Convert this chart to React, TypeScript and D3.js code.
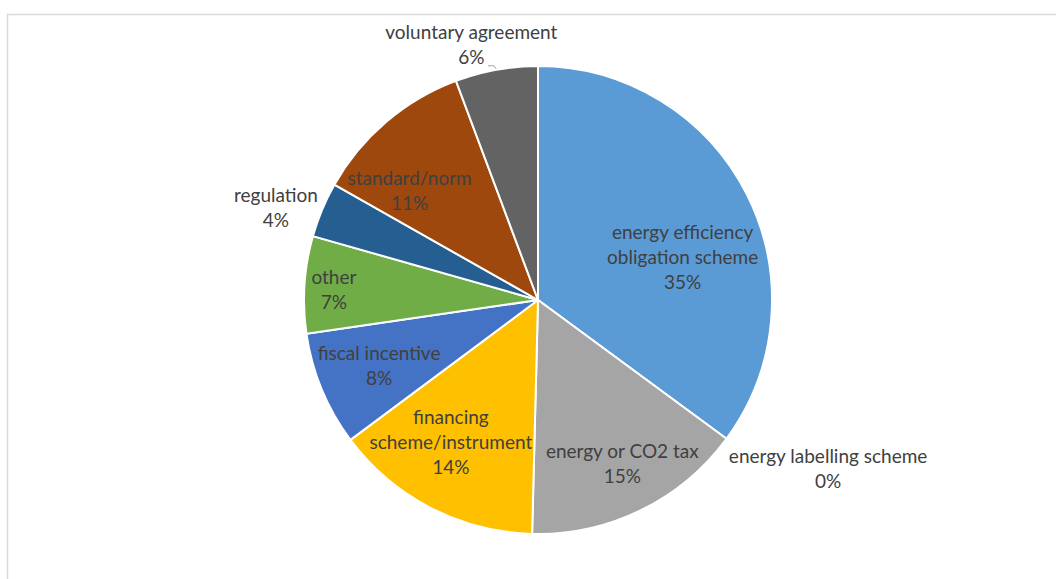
import React from "react";
import * as d3 from "d3";

const categories = [
  "energy efficiency obligation scheme",
  "energy labelling scheme",
  "energy or CO2 tax",
  "financing scheme/instrument",
  "fiscal incentive",
  "other",
  "regulation",
  "standard/norm",
  "voluntary agreement",
];
const values = [35.1, 0, 15.3, 14.4, 7.9, 6.7, 3.8, 11.1, 5.7];
const percentLabels = ["35%", "0%", "15%", "14%", "8%", "7%", "4%", "11%", "6%"];
const labelLines = [
  ["energy efficiency", "obligation scheme"],
  ["energy labelling scheme"],
  ["energy or CO2 tax"],
  ["financing", "scheme/instrument"],
  ["fiscal incentive"],
  ["other"],
  ["regulation"],
  ["standard/norm"],
  ["voluntary agreement"],
];
const colors = ["#5B9BD5", "#ED7D31", "#A5A5A5", "#FFC000", "#4472C4", "#70AD47", "#255E91", "#9E480E", "#636363"];

// label layout: [radius factor, extra dx, extra dy]
const labelLayout: [number, number, number][] = [
  [0.64, 11, 25],
  [1.2, 64, 2],
  [0.78, 4, 0],
  [0.68, -14, 1],
  [0.74, 1, 0],
  [0.87, -1, 3],
  [1.2, -3, 16],
  [0.72, -19, 19],
  [1.12, -20, 3],
];

const W = 1056;
const H = 579;
const cx = 538;
const cy = 300;
const R = 234;
const LH = 25;

export default function App() {
  const pie = d3.pie<number>().sort(null).value((d) => d);
  const arcs = pie(values);
  const arcGen = d3.arc<d3.PieArcDatum<number>>().innerRadius(0).outerRadius(R);

  return (
    <svg width={W} height={H} style={{ position: "absolute", left: 0, top: 0, background: "#fff" }}
      fontFamily="Lato, 'Open Sans', sans-serif" fontSize={19}>
      <rect x={7.5} y={14.5} width={W + 20} height={H + 20} fill="#fff" stroke="#d9d9d9" strokeWidth={1.5} />
      <g transform={`translate(${cx},${cy})`}>
        {arcs.map((a, i) => (
          <path key={i} d={arcGen(a) || ""} fill={colors[i]} stroke="#fff" strokeWidth={2} strokeLinejoin="round" />
        ))}
        {arcs.map((a, i) => {
          const mid = (a.startAngle + a.endAngle) / 2;
          const [k, ex, ey] = labelLayout[i];
          const x = Math.sin(mid) * R * k + ex;
          const y = -Math.cos(mid) * R * k + ey;
          const lines = [...labelLines[i], percentLabels[i]];
          const top = y - ((lines.length - 1) * LH) / 2;
          return (
            <text key={i} textAnchor="middle" fill="#404040">
              {lines.map((t, j) => (
                <tspan key={j} x={x} y={top + j * LH} dy="0.35em">{t}</tspan>
              ))}
            </text>
          );
        })}
        {(() => {
          const a = arcs[8];
          const mid = (a.startAngle + a.endAngle) / 2;
          const ex = Math.sin(mid) * (R + 2);
          const ey = -Math.cos(mid) * (R + 2);
          return (
            <polyline points={`${ex - 8},${ey - 2} ${ex - 2},${ey - 2} ${ex},${ey + 1}`} fill="none" stroke="#a6a6a6" strokeWidth={1} />
          );
        })()}
      </g>
    </svg>
  );
}
